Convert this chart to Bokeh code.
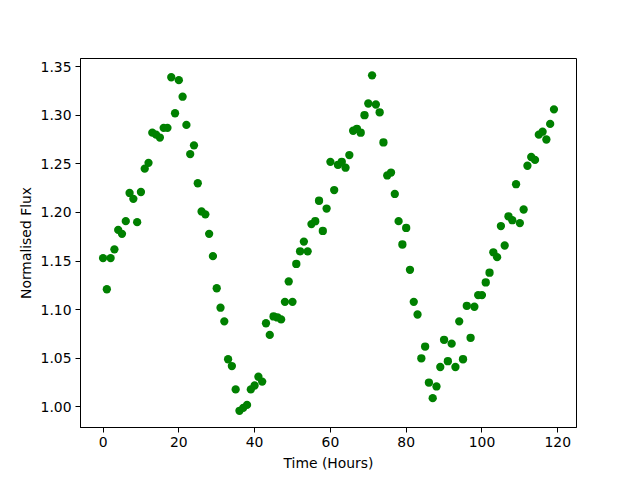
from bokeh.plotting import figure
from bokeh.models import Range1d, FixedTicker, NumeralTickFormatter, ColumnDataSource
from bokeh.embed import file_html
from bokeh.resources import INLINE

hours = list(range(120))
flux = [
    1.153, 1.121, 1.153, 1.162, 1.182, 1.178, 1.191, 1.220, 1.214, 1.190,
    1.221, 1.245, 1.251, 1.282, 1.280, 1.277, 1.287, 1.287, 1.339, 1.302,
    1.336, 1.319, 1.290, 1.260, 1.269, 1.230, 1.201, 1.198, 1.178, 1.155,
    1.122, 1.102, 1.088, 1.049, 1.042, 1.018, 0.996, 0.999, 1.002, 1.018,
    1.022, 1.031, 1.026, 1.086, 1.074, 1.093, 1.092, 1.090, 1.108, 1.129,
    1.108, 1.147, 1.160, 1.170, 1.160, 1.188, 1.191, 1.212, 1.181, 1.204,
    1.252, 1.223, 1.249, 1.252, 1.246, 1.259, 1.284, 1.286, 1.282, 1.300,
    1.312, 1.341, 1.311, 1.303, 1.272, 1.238, 1.241, 1.219, 1.191, 1.167,
    1.184, 1.141, 1.108, 1.095, 1.050, 1.062, 1.025, 1.009, 1.021, 1.041,
    1.069, 1.047, 1.065, 1.041, 1.088, 1.049, 1.104, 1.071, 1.103, 1.115,
    1.115, 1.128, 1.138, 1.159, 1.154, 1.186, 1.166, 1.196, 1.192, 1.229,
    1.189, 1.203, 1.248, 1.257, 1.254, 1.280, 1.283, 1.275, 1.291, 1.306,
]
x_ticks = [0, 20, 40, 60, 80, 100, 120]
y_ticks = [1.00, 1.05, 1.10, 1.15, 1.20, 1.25, 1.30, 1.35]
x_label = "Time (Hours)"
y_label = "Normalised Flux"

source = ColumnDataSource(data=dict(x=hours, y=flux))

p = figure(width=640, height=480, output_backend="svg", toolbar_location=None,
           x_range=Range1d(-5.95, 124.95), y_range=Range1d(0.9788, 1.3583),
           min_border_left=80, min_border_right=64, min_border_top=58,
           min_border_bottom=53)
p.scatter("x", "y", source=source, size=8.3, fill_color="#008000",
          line_color="#008000", line_width=0)

p.grid.visible = False
p.outline_line_color = "black"
p.outline_line_width = 1
p.background_fill_color = "white"
p.border_fill_color = "white"

for ax in (p.xaxis[0], p.yaxis[0]):
    ax.major_label_text_font = "DejaVu Sans"
    ax.major_label_text_font_size = "13.9px"
    ax.major_label_text_color = "black"
    ax.axis_label_text_font = "DejaVu Sans"
    ax.axis_label_text_font_size = "13.9px"
    ax.axis_label_text_font_style = "normal"
    ax.axis_label_text_color = "black"
    ax.minor_tick_line_color = None
    ax.major_tick_in = 0
    ax.major_tick_out = 5
    ax.major_tick_line_color = "black"
    ax.axis_line_color = "black"
    ax.major_label_standoff = 4

p.xaxis.ticker = FixedTicker(ticks=x_ticks)
p.yaxis.ticker = FixedTicker(ticks=y_ticks)
p.yaxis.formatter = NumeralTickFormatter(format="0.00")
p.xaxis.axis_label = x_label
p.yaxis.axis_label = y_label
p.xaxis.axis_label_standoff = 5
p.yaxis.axis_label_standoff = 4

open("out.html", "w").write(file_html(p, INLINE))
